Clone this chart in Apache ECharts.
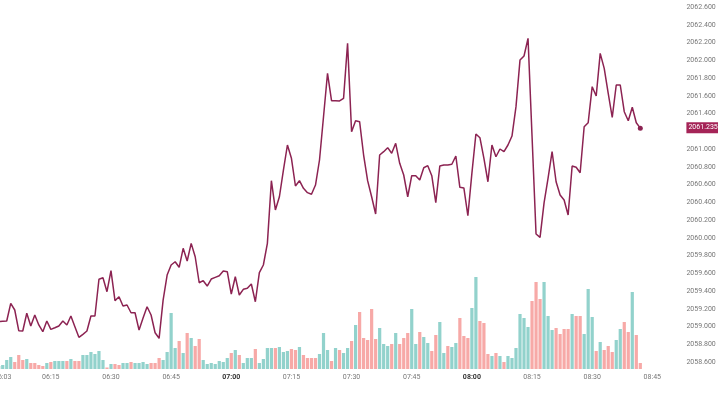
<!DOCTYPE html>
<html>
<head>
<meta charset="utf-8">
<script src="https://cdn.jsdelivr.net/npm/echarts@6/dist/echarts.min.js"></script>
<style>
html,body{margin:0;padding:0;background:#fff;}
#c{width:718px;height:393px;}
</style>
</head>
<body>
<div id="c"></div>
<script>
// ---- data ----
const startTime = '06:02';
const slotCount = 170; // minutes on the time axis (data + right margin)
const price = [
2059.054,2059.058,2059.062,2059.261,2059.186,2058.953,2058.949,2059.149,2059.006,2059.130,
2059.017,2058.941,2059.062,2058.968,2058.986,2059.006,2059.062,2059.017,2059.118,2058.998,
2058.878,2058.912,2058.949,2059.118,2059.118,2059.532,2059.550,2059.392,2059.629,2059.291,
2059.336,2059.231,2059.242,2059.155,2059.155,2058.960,2059.096,2059.223,2059.130,2058.930,
2058.867,2059.298,2059.580,2059.693,2059.730,2059.667,2059.881,2059.738,2059.937,2059.786,
2059.493,2059.516,2059.456,2059.535,2059.554,2059.572,2059.625,2059.617,2059.366,2059.561,
2059.355,2059.419,2059.430,2059.479,2059.279,2059.606,2059.693,2059.937,2060.643,2060.313,
2060.462,2060.763,2061.045,2060.895,2060.583,2060.643,2060.557,2060.508,2060.490,2060.594,
2060.876,2061.364,2061.853,2061.544,2061.544,2061.541,2061.571,2062.191,2061.195,2061.319,
2061.308,2060.932,2060.643,2060.462,2060.268,2060.932,2060.970,2061.015,2060.952,2061.064,
2060.839,2060.707,2060.462,2060.699,2060.699,2060.651,2060.789,2060.812,2060.699,2060.395,
2060.808,2060.820,2060.820,2060.828,2060.921,2060.568,2060.561,2060.248,2060.726,2061.169,
2061.127,2060.895,2060.631,2061.045,2060.913,2061.000,2060.970,2061.045,2061.146,2061.477,
2062.003,2062.048,2062.247,2061.146,2060.042,2060.005,2060.392,2060.673,2060.970,2060.631,
2060.482,2060.425,2060.256,2060.808,2060.794,2060.733,2061.251,2061.296,2061.702,2061.597,
2062.078,2061.909,2061.628,2061.357,2061.721,2061.721,2061.420,2061.319,2061.470,2061.296,
2061.235
];
const volume = [
3,4,9,12,7,14,9,10,6,6,
4,3,6,7,8,8,8,8,10,8,
8,14,14,17,15,18,9,1.5,5,5,
4,6,6,7,6,6,7,5,6,6,
11,9,17,56,21,28,16,36,31,23,
30,9,5,6,5,8,7,11,16,19,
14,6,11,11,20,6,10,21,21,21,
22,17,18,20,19,22,14,11,11,11,
15,36,19,8,21,19,16,21,28,44,
57,31,29,60,30,41,25,23,25,36,
25,31,36,60,25,37,32,26,18,34,
47,16,23,22,26,51,33,31,61,92,
48,46,15,13,16,13,7,13,11,21,
55,51,42,68,87,70,87,53,39,41,
35,40,40,55,53,53,35,80,52,18,
27,19,23,17,29,40,47,37,77,34,
6
];
// 1 = up candle, -1 = down candle
const volumeDir = [
1,1,1,1,-1,-1,-1,1,-1,-1,
-1,-1,1,-1,1,1,1,-1,1,-1,
-1,1,1,1,1,1,1,-1,1,-1,
-1,1,1,-1,1,1,1,1,-1,-1,
-1,1,1,1,1,-1,1,-1,1,-1,
-1,1,1,1,1,1,1,1,-1,1,
-1,1,1,1,-1,1,1,1,1,-1,
1,1,1,-1,-1,1,-1,-1,-1,-1,
1,1,1,-1,1,-1,1,1,-1,1,
-1,-1,-1,-1,-1,1,1,1,-1,1,
-1,-1,-1,1,1,-1,1,1,-1,-1,
1,1,-1,1,1,-1,-1,-1,1,1,
-1,-1,-1,1,-1,1,-1,1,1,1,
1,1,1,-1,-1,-1,1,1,1,-1,
-1,-1,-1,1,-1,-1,1,1,1,-1,
1,-1,-1,-1,1,1,-1,-1,1,-1,
-1
];
const tickLabels = ['06:03','06:15','06:30','06:45','07:00','07:15','07:30','07:45','08:00','08:15','08:30','08:45'];
const boldTicks = ['07:00','08:00'];
const priceMin = 2058.6, priceMax = 2062.6, priceStep = 0.2;
const lastPriceLabel = '2061.235';

// ---- build ----
const categories = [];
{
  let [h, m] = startTime.split(':').map(Number);
  for (let i = 0; i < slotCount; i++) {
    categories.push(String(h).padStart(2,'0') + ':' + String(m).padStart(2,'0'));
    m++; if (m === 60) { m = 0; h++; }
  }
}
const lastIdx = price.length - 1;
const lastPrice = price[lastIdx];
const UP = 'rgba(38,166,154,0.5)', DOWN = 'rgba(239,83,80,0.5)';
const LINE = '#8c2352';

const band = 4.01;
const gridLeft = -3.3;
const gridWidth = band * slotCount;
const FONT = 'Roboto, "Noto Sans", sans-serif';

const chart = echarts.init(document.getElementById('c'), null, {renderer: 'canvas'});
chart.setOption({
  animation: false,
  backgroundColor: '#ffffff',
  grid: [
    {left: gridLeft, top: 7, width: gridWidth, height: 355, outerBoundsMode: 'none', containLabel: false},
    {left: gridLeft, top: 269, width: gridWidth, height: 100, outerBoundsMode: 'none', containLabel: false}
  ],
  xAxis: [
    {type: 'category', gridIndex: 0, data: categories, boundaryGap: true, show: false},
    {type: 'category', gridIndex: 1, data: categories, boundaryGap: true,
      axisLine: {show: false}, axisTick: {show: false}, splitLine: {show: false},
      axisLabel: {
        interval: function (i, v) { return tickLabels.indexOf(v) >= 0; },
        formatter: function (v) { return boldTicks.indexOf(v) >= 0 ? '{b|' + v + '}' : v; },
        color: '#777', fontSize: 7, fontFamily: FONT, margin: 5, hideOverlap: false,
        alignMinLabel: 'center', alignMaxLabel: 'center',
        rich: {b: {fontWeight: 'bold', color: '#333', fontSize: 7, fontFamily: FONT}}
      }
    }
  ],
  yAxis: [
    {type: 'value', gridIndex: 0, position: 'right', min: priceMin, max: priceMax, interval: priceStep,
      splitLine: {show: false}, axisLine: {show: false}, axisTick: {show: false},
      axisLabel: {
        margin: 8, color: '#777', fontSize: 7, fontFamily: FONT, align: 'left',
        formatter: function (v) { return Math.abs(v - lastPrice) < 0.1 ? '' : v.toFixed(3); }
      }
    },
    {type: 'value', gridIndex: 1, min: 0, max: 100, show: false}
  ],
  series: [
    {
      type: 'bar', xAxisIndex: 1, yAxisIndex: 1, z: 1,
      barCategoryGap: '20%',
      data: volume.map(function (v, i) {
        return {value: v, itemStyle: {color: volumeDir[i] > 0 ? UP : DOWN}};
      })
    },
    {
      type: 'line', xAxisIndex: 0, yAxisIndex: 0, z: 5, clip: false,
      data: price, showSymbol: false, symbol: 'none',
      lineStyle: {color: LINE, width: 1.5},
      markPoint: {
        symbol: 'circle', symbolSize: 5,
        itemStyle: {color: LINE},
        label: {show: false},
        data: [{coord: [lastIdx, lastPrice]}]
      },
      markLine: {
        silent: true, symbol: 'none',
        lineStyle: {color: 'rgba(0,0,0,0)', width: 1, type: 'solid'},
        label: {
          show: true, position: 'end', distance: 8,
          formatter: lastPriceLabel,
          backgroundColor: '#a52457', color: '#fff',
          fontSize: 7, fontFamily: FONT, padding: [2, 4, 2, 2]
        },
        data: [{yAxis: lastPrice}]
      }
    }
  ]
});
</script>
</body>
</html>
